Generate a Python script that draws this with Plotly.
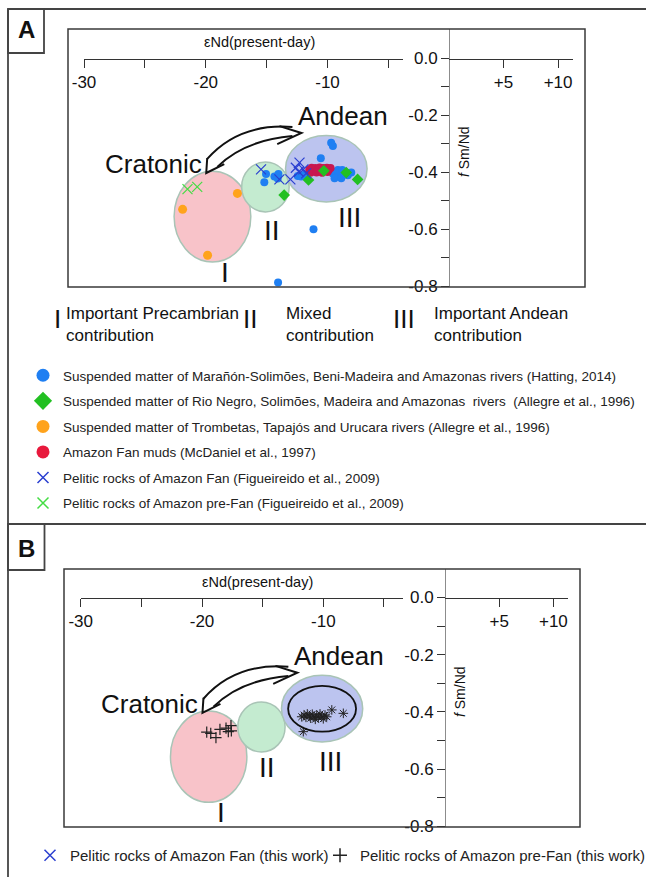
import plotly.graph_objects as go

W, H = 646, 877
FONT = "Liberation Sans, Arial, sans-serif"

def PX(x):
    return x / W

def PY(y):
    return 1 - y / H

# ---------------- data: panel A ----------------
hat_x = [-15.05, -15.19, -14.36, -14.03, -14.09, -9.7, -9.56, -10.55, -12.44, -12.17, -11.9,
         -9.56, -9.28, -9.01, -9.42, -8.87, -8.6, -8.33, -8.05, -9.15, -8.79, -11.15, -14.06]
hat_y = [-0.407, -0.436, -0.416, -0.407, -0.423, -0.297, -0.309, -0.352, -0.414, -0.416, -0.41,
         -0.405, -0.399, -0.411, -0.422, -0.422, -0.405, -0.411, -0.402, -0.393, -0.393, -0.601, -0.788]

rng_x = [-11.56, -10.3, -8.46, -7.53, -13.56]
rng_y = [-0.428, -0.396, -0.402, -0.426, -0.481]

trb_x = [-17.4, -21.9, -19.85]
trb_y = [-0.475, -0.531, -0.692]

mcd_x = [-11.5, -11.3, -11.15, -11.0, -10.8, -10.65, -10.5, -10.35, -10.2, -10.05, -9.9, -9.75,
         -11.4, -10.9, -10.45, -10.0]
mcd_y = [-0.392, -0.385, -0.398, -0.386, -0.393, -0.384, -0.397, -0.386, -0.392, -0.385, -0.393,
         -0.386, -0.403, -0.402, -0.403, -0.40]

figF_x = [-15.46, -13.95, -13.05, -12.3, -11.98, -12.36, -11.75, -12.6]
figF_y = [-0.391, -0.426, -0.426, -0.367, -0.391, -0.399, -0.405, -0.385]

figP_x = [-21.5, -20.7]
figP_y = [-0.46, -0.452]

# ---------------- data: panel B ----------------
fan_x = [-11.78, -11.59, -11.43, -11.32, -11.15, -11.04, -10.91, -10.77, -10.66, -10.54, -10.41,
         -10.27, -10.13, -10.0, -9.86, -9.72, -9.3, -8.35, -11.65]
fan_y = [-0.417, -0.411, -0.419, -0.407, -0.414, -0.422, -0.408, -0.417, -0.426, -0.411, -0.419,
         -0.407, -0.417, -0.424, -0.411, -0.417, -0.393, -0.405, -0.469]

pre_x = [-19.61, -19.28, -18.85, -18.52, -18.02, -17.83, -17.61, -17.58]
pre_y = [-0.471, -0.475, -0.490, -0.461, -0.457, -0.469, -0.448, -0.466]

# field ellipses (eNd range, fSm/Nd range)
ell_I = ([-22.6, -16.3], [-0.716, -0.397])
ell_II = ([-17.05, -13.15], [-0.540, -0.365])
ell_III = ([-13.45, -6.75], [-0.505, -0.272])
ell_B = ([-12.9, -7.3], [-0.469, -0.309])

# ticks
xticks_left = [-30, -25, -20, -15, -10, -5]
xticktext_left = ["-30", "", "-20", "", "-10", ""]
xticks_right = [5, 10]
xticktext_right = ["+5", "+10"]
yticks = [0.0, -0.1, -0.2, -0.3, -0.4, -0.5, -0.6, -0.7, -0.8]
yticktext = ["0.0", "", "-0.2", "", "-0.4", "", "-0.6", "", "-0.8"]

leg_A = [
    "Suspended matter of Marañón-Solimões, Beni-Madeira and Amazonas rivers (Hatting, 2014)",
    "Suspended matter of Rio Negro, Solimões, Madeira and Amazonas  rivers  (Allegre et al., 1996)",
    "Suspended matter of Trombetas, Tapajós and Urucara rivers (Allegre et al., 1996)",
    "Amazon Fan muds (McDaniel et al., 1997)",
    "Pelitic rocks of Amazon Fan (Figueireido et al., 2009)",
    "Pelitic rocks of Amazon pre-Fan (Figueireido et al., 2009)",
]
leg_B = ["Pelitic rocks of Amazon Fan (this work)", "Pelitic rocks of Amazon pre-Fan (this work)"]

C_BLUE = "#1f7ff2"
C_GREEN = "#22c022"
C_ORANGE = "#ffa31c"
C_RED = "#e8193c"
C_RED_PLOT = "#c8174f"
C_XBLUE = "#2a3fd0"
C_XGREEN = "#44dd44"

fig = go.Figure()

def pts(x, y, xa, ya, **mk):
    fig.add_trace(go.Scatter(x=x, y=y, mode="markers", xaxis=xa, yaxis=ya, marker=mk,
                             showlegend=False, hoverinfo="x+y", cliponaxis=False))

# panel A data traces
pts(trb_x, trb_y, "x", "y", color=C_ORANGE, size=9, symbol="circle")
pts(hat_x, hat_y, "x", "y", color=C_BLUE, size=8, symbol="circle")
pts(mcd_x, mcd_y, "x", "y", color=C_RED_PLOT, size=8, symbol="circle")
pts(rng_x, rng_y, "x", "y", color=C_GREEN, size=9, symbol="diamond")
pts(figF_x, figF_y, "x", "y", color=C_XBLUE, size=10, symbol="x-thin-open", line=dict(color=C_XBLUE, width=1.2))
pts(figP_x, figP_y, "x", "y", color=C_XGREEN, size=10, symbol="x-thin-open", line=dict(color=C_XGREEN, width=1.2))

# panel B data traces
pts(pre_x, pre_y, "x3", "y2", color="#222", size=8, symbol="cross-thin-open", line=dict(color="#222", width=1.2))
pts(fan_x, fan_y, "x3", "y2", color="#222", size=8, symbol="asterisk-open", line=dict(color="#222", width=1))

# helper traces so the right-hand axes render
for xa, ya in [("x2", "y"), ("x4", "y2")]:
    fig.add_trace(go.Scatter(x=[None], y=[None], xaxis=xa, yaxis=ya, mode="markers",
                             showlegend=False, hoverinfo="skip"))

# legend keys panel A
legA_styles = [
    dict(color=C_BLUE, size=13, symbol="circle"),
    dict(color=C_GREEN, size=14, symbol="diamond"),
    dict(color=C_ORANGE, size=13, symbol="circle"),
    dict(color=C_RED, size=13, symbol="circle"),
    dict(color=C_XBLUE, size=11, symbol="x-thin-open", line=dict(color=C_XBLUE, width=1.5)),
    dict(color=C_XGREEN, size=11, symbol="x-thin-open", line=dict(color=C_XGREEN, width=1.5)),
]
for i, (name, mk) in enumerate(zip(leg_A, legA_styles)):
    fig.add_trace(go.Scatter(x=[None], y=[None], mode="markers", name=name, marker=mk,
                             legend="legend", legendgroup=f"a{i}", xaxis="x", yaxis="y"))

legB_styles = [
    dict(color=C_XBLUE, size=11, symbol="x-thin-open", line=dict(color=C_XBLUE, width=1.5)),
    dict(color="#222", size=10, symbol="cross-thin-open", line=dict(color="#222", width=1.5)),
]
for name, mk, lg in zip(leg_B, legB_styles, ["legend2", "legend3"]):
    fig.add_trace(go.Scatter(x=[None], y=[None], mode="markers", name=name, marker=mk,
                             legend=lg, xaxis="x3", yaxis="y2"))

shapes = []
LC = "#444444"
shapes += [
    dict(type="line", xref="paper", yref="paper", x0=PX(8), x1=PX(8), y0=PY(9), y1=PY(880), line=dict(color=LC, width=1.8)),
    dict(type="line", xref="paper", yref="paper", x0=PX(8), x1=PX(650), y0=PY(9), y1=PY(9), line=dict(color=LC, width=1.8)),
    dict(type="line", xref="paper", yref="paper", x0=PX(8), x1=PX(650), y0=PY(524), y1=PY(524), line=dict(color=LC, width=1.8)),
    dict(type="rect", xref="paper", yref="paper", x0=PX(8), x1=PX(44), y0=PY(53), y1=PY(9), line=dict(color=LC, width=1.8)),
    dict(type="rect", xref="paper", yref="paper", x0=PX(8), x1=PX(44.5), y0=PY(570), y1=PY(524), line=dict(color=LC, width=1.8)),
    dict(type="rect", xref="paper", yref="paper", x0=PX(68), x1=PX(585), y0=PY(287), y1=PY(29), line=dict(color="#3a3a3a", width=1.5)),
    dict(type="rect", xref="paper", yref="paper", x0=PX(64), x1=PX(580), y0=PY(827), y1=PY(569), line=dict(color="#3a3a3a", width=1.5)),
]

ELL_LINE = dict(color="#a9c4b6", width=1.5)
ARROW_PATHS = [
    "M -19.88,-0.354 Q -17.28,-0.228 -12.88,-0.242",
    "M -19.05,-0.382 Q -16.87,-0.289 -12.88,-0.274",
    "M -13.95,-0.239 L -12.14,-0.263 L -14.13,-0.302",
    "M -19.88,-0.351 L -19.96,-0.4035 L -18.48,-0.372",
]
for xr, yr in [("x", "y"), ("x3", "y2")]:
    for (ex, ey), fc in [(ell_I, "#f8c3c9"), (ell_II, "#c4ebd0"), (ell_III, "#bcc4ef")]:
        shapes.append(dict(type="circle", xref=xr, yref=yr, x0=ex[0], x1=ex[1], y0=ey[0], y1=ey[1],
                           fillcolor=fc, line=ELL_LINE, layer="below"))
    for p in ARROW_PATHS:
        shapes.append(dict(type="path", xref=xr, yref=yr, path=p, line=dict(color="#111", width=2)))

shapes.append(dict(type="circle", xref="x3", yref="y2", x0=ell_B[0][0], x1=ell_B[0][1],
                   y0=ell_B[1][0], y1=ell_B[1][1], line=dict(color="#111", width=1.8)))

ann = []
def txt(x, y, t, size, xref="paper", yref="paper", xanchor="center", yanchor="middle", bold=False, angle=0, align="center"):
    if xref == "paper":
        x, y = PX(x), PY(y)
    ann.append(dict(x=x, y=y, xref=xref, yref=yref, text=(f"<b>{t}</b>" if bold else t), showarrow=False,
                    xanchor=xanchor, yanchor=yanchor, textangle=angle, align=align,
                    font=dict(family=FONT, size=size, color="#111")))

txt(26.5, 30, "A", 24, bold=True)
txt(26.5, 548, "B", 24, bold=True)
txt(259, 42, "εNd(present-day)", 14.5)
txt(257, 582, "εNd(present-day)", 14.5)
txt(464, 152, "<i>f</i> Sm/Nd", 14, angle=-90)
txt(460, 692, "<i>f</i> Sm/Nd", 14, angle=-90)

for xr, yr, roman in [("x", "y", [(-18.4, -0.752), (-14.6, -0.604), (-8.2, -0.558)]),
                      ("x3", "y2", [(-18.4, -0.752), (-14.65, -0.594), (-9.4, -0.572)])]:
    txt(-8.7, -0.205, "Andean", 26, xref=xr, yref=yr)
    txt(-24.3, -0.372, "Cratonic", 26, xref=xr, yref=yr)
    for (rx, ry), t in zip(roman, ["I", "II", "III"]):
        txt(rx, ry, t, 28, xref=xr, yref=yr)

# explanation row
txt(57, 319, "I", 26)
txt(250, 319, "II", 26)
txt(404, 319, "III", 26)
txt(64, 324, "Important Precambrian<br>contribution", 17, xanchor="left", align="left")
txt(284, 324, "Mixed<br>contribution", 17, xanchor="left", align="left")
txt(432, 324, "Important Andean<br>contribution", 17, xanchor="left", align="left")

AX = dict(showgrid=False, zeroline=False, showline=True, linecolor="#333", linewidth=1,
          ticks="outside", ticklen=8, tickcolor="#333", tickwidth=1,
          tickfont=dict(family=FONT, size=17, color="#111"), fixedrange=True, automargin=False)
YAX = dict(AX, linecolor="#8c8c8c", tickvals=yticks, ticktext=yticktext, side="left", anchor="free")

LEGB_FONT = dict(family=FONT, size=15, color="#222")

fig.update_layout(
    width=W, height=H, margin=dict(l=0, r=0, t=0, b=0, pad=0, autoexpand=False),
    paper_bgcolor="white", plot_bgcolor="rgba(0,0,0,0)",
    xaxis=dict(AX, domain=[PX(84), PX(403)], range=[-30, -3.8], anchor="free", position=PY(58.5),
               tickvals=xticks_left, ticktext=xticktext_left),
    xaxis2=dict(AX, domain=[PX(449), PX(573)], range=[0, 11.37], anchor="free", position=PY(58.5),
                tickvals=xticks_right, ticktext=xticktext_right),
    yaxis=dict(YAX, domain=[PY(287), PY(29)], range=[-0.8035, 0.1018], position=PX(449)),
    xaxis3=dict(AX, domain=[PX(80.7), PX(403)], range=[-30, -3.43], anchor="free", position=PY(597.5),
                tickvals=xticks_left, ticktext=xticktext_left),
    xaxis4=dict(AX, domain=[PX(445), PX(568)], range=[0, 11.35], anchor="free", position=PY(597.5),
                tickvals=xticks_right, ticktext=xticktext_right),
    yaxis2=dict(YAX, domain=[PY(827), PY(569)], range=[-0.8024, 0.0997], position=PX(445)),
    shapes=shapes, annotations=ann,
    legend=dict(x=PX(23), xanchor="left", y=PY(360), yanchor="top", bgcolor="rgba(0,0,0,0)",
                font=dict(family=FONT, size=13.5, color="#222"), traceorder="grouped", tracegroupgap=5,
                itemsizing="trace"),
    legend2=dict(x=PX(30), xanchor="left", y=PY(839), yanchor="top",
                 bgcolor="rgba(0,0,0,0)", font=LEGB_FONT, itemsizing="trace"),
    legend3=dict(x=PX(320), xanchor="left", y=PY(839), yanchor="top",
                 bgcolor="rgba(0,0,0,0)", font=LEGB_FONT, itemsizing="trace"),
    showlegend=True,
)

fig.write_html("out.html", config={"displayModeBar": False},
               post_script="document.body.style.margin='0px';document.body.style.overflow='hidden';")
